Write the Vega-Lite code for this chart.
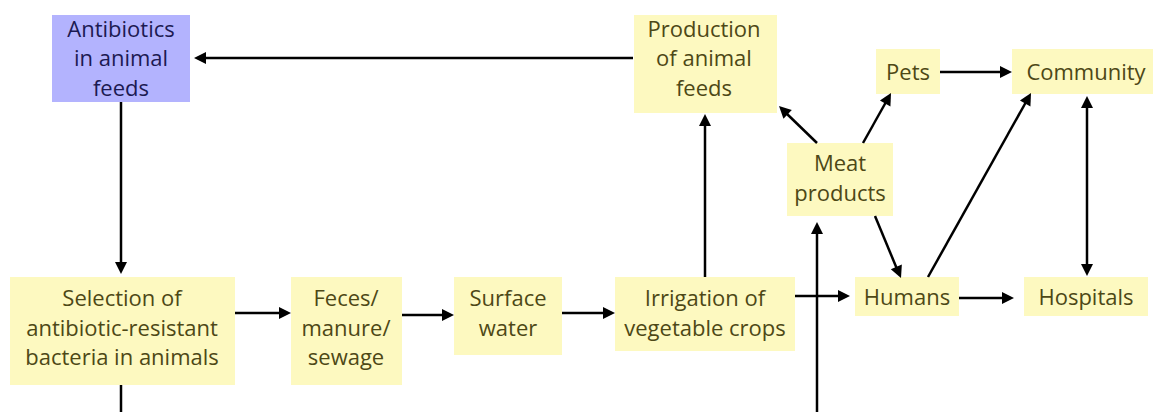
{
  "$schema": "https://vega.github.io/schema/vega-lite/v6.json",
  "width": 1156,
  "height": 412,
  "padding": 0,
  "autosize": {"type": "none"},
  "background": "white",
  "config": {"view": {"stroke": null}},
  "datasets": {
    "boxes": [
      {"name": "Antibiotics", "x": 52, "x2": 190, "y": 15, "y2": 102, "kind": "source"},
      {"name": "Production", "x": 634, "x2": 777, "y": 15, "y2": 113, "kind": "step"},
      {"name": "Pets", "x": 876, "x2": 940, "y": 49, "y2": 94, "kind": "step"},
      {"name": "Community", "x": 1012, "x2": 1153, "y": 49, "y2": 94, "kind": "step"},
      {"name": "Meat", "x": 787, "x2": 893, "y": 143, "y2": 216, "kind": "step"},
      {"name": "Selection", "x": 10, "x2": 235, "y": 277, "y2": 385, "kind": "step"},
      {"name": "Feces", "x": 291, "x2": 402, "y": 277, "y2": 385, "kind": "step"},
      {"name": "Surface", "x": 454, "x2": 562, "y": 277, "y2": 355, "kind": "step"},
      {"name": "Irrigation", "x": 615, "x2": 795, "y": 277, "y2": 351, "kind": "step"},
      {"name": "Humans", "x": 855, "x2": 959, "y": 277, "y2": 316, "kind": "step"},
      {"name": "Hospitals", "x": 1024, "x2": 1148, "y": 277, "y2": 316, "kind": "step"}
    ],
    "labels": [
      {"text": "Antibiotics", "x": 121, "y": 29, "kind": "source"},
      {"text": "in animal", "x": 121, "y": 58, "kind": "source"},
      {"text": "feeds", "x": 121, "y": 88, "kind": "source"},
      {"text": "Production", "x": 704, "y": 29, "kind": "step"},
      {"text": "of animal", "x": 704, "y": 58, "kind": "step"},
      {"text": "feeds", "x": 704, "y": 88, "kind": "step"},
      {"text": "Pets", "x": 908, "y": 72, "kind": "step"},
      {"text": "Community", "x": 1086, "y": 72, "kind": "step"},
      {"text": "Meat", "x": 840, "y": 163, "kind": "step"},
      {"text": "products", "x": 840, "y": 193, "kind": "step"},
      {"text": "Selection of", "x": 122, "y": 298, "kind": "step"},
      {"text": "antibiotic-resistant", "x": 122, "y": 328, "kind": "step"},
      {"text": "bacteria in animals", "x": 122, "y": 357, "kind": "step"},
      {"text": "Feces/", "x": 346, "y": 298, "kind": "step"},
      {"text": "manure/", "x": 346, "y": 328, "kind": "step"},
      {"text": "sewage", "x": 346, "y": 357, "kind": "step"},
      {"text": "Surface", "x": 508, "y": 298, "kind": "step"},
      {"text": "water", "x": 508, "y": 328, "kind": "step"},
      {"text": "Irrigation of", "x": 705, "y": 298, "kind": "step"},
      {"text": "vegetable crops", "x": 705, "y": 328, "kind": "step"},
      {"text": "Humans", "x": 907, "y": 297, "kind": "step"},
      {"text": "Hospitals", "x": 1086, "y": 297, "kind": "step"}
    ],
    "links": [
      {"x": 633, "y": 58, "x2": 204, "y2": 58},
      {"x": 121, "y": 102, "x2": 121, "y2": 264},
      {"x": 121, "y": 385, "x2": 121, "y2": 412},
      {"x": 235, "y": 313, "x2": 281, "y2": 313},
      {"x": 402, "y": 315, "x2": 444, "y2": 315},
      {"x": 562, "y": 313, "x2": 605, "y2": 313},
      {"x": 705, "y": 277, "x2": 705, "y2": 124},
      {"x": 817, "y": 412, "x2": 817, "y2": 232},
      {"x": 795, "y": 296, "x2": 840, "y2": 296},
      {"x": 817, "y": 143, "x2": 786, "y2": 113},
      {"x": 863, "y": 143, "x2": 886, "y2": 102},
      {"x": 875, "y": 216, "x2": 897, "y2": 269},
      {"x": 940, "y": 72, "x2": 1002, "y2": 72},
      {"x": 928, "y": 277, "x2": 1026, "y2": 102},
      {"x": 1087, "y": 106, "x2": 1087, "y2": 266},
      {"x": 959, "y": 298, "x2": 1004, "y2": 298}
    ],
    "heads": [
      {"x": 194, "y": 58, "angle": 270},
      {"x": 121, "y": 274, "angle": 180},
      {"x": 291, "y": 313, "angle": 90},
      {"x": 454, "y": 315, "angle": 90},
      {"x": 615, "y": 313, "angle": 90},
      {"x": 705, "y": 114, "angle": 0},
      {"x": 850, "y": 296, "angle": 90},
      {"x": 817, "y": 222, "angle": 0},
      {"x": 779, "y": 106, "angle": 314},
      {"x": 891, "y": 93, "angle": 29},
      {"x": 901, "y": 278, "angle": 157},
      {"x": 1012, "y": 72, "angle": 90},
      {"x": 1031, "y": 93, "angle": 29},
      {"x": 1087, "y": 96, "angle": 0},
      {"x": 1087, "y": 276, "angle": 180},
      {"x": 1014, "y": 298, "angle": 90}
    ]
  },
  "layer": [
    {
      "data": {"name": "boxes"},
      "mark": {"type": "rect"},
      "encoding": {
        "x": {"field": "x", "type": "quantitative", "scale": {"domain": [0, 1156], "nice": false, "zero": false}, "axis": null},
        "x2": {"field": "x2"},
        "y": {"field": "y", "type": "quantitative", "scale": {"domain": [0, 412], "nice": false, "zero": false, "reverse": true}, "axis": null},
        "y2": {"field": "y2"},
        "color": {"field": "kind", "type": "nominal", "scale": {"domain": ["source", "step"], "range": ["#b3b3fe", "#fdf9c0"]}, "legend": null}
      }
    },
    {
      "data": {"name": "links"},
      "mark": {"type": "rule", "color": "black", "strokeWidth": 2.5},
      "encoding": {
        "x": {"field": "x", "type": "quantitative", "scale": {"domain": [0, 1156], "nice": false, "zero": false}, "axis": null},
        "x2": {"field": "x2"},
        "y": {"field": "y", "type": "quantitative", "scale": {"domain": [0, 412], "nice": false, "zero": false, "reverse": true}, "axis": null},
        "y2": {"field": "y2"}
      }
    },
    {
      "data": {"name": "heads"},
      "mark": {"type": "point", "shape": "M0,0L-1,2L1,2Z", "size": 144, "filled": true, "color": "black", "opacity": 1, "strokeWidth": 0},
      "encoding": {
        "x": {"field": "x", "type": "quantitative", "scale": {"domain": [0, 1156], "nice": false, "zero": false}, "axis": null},
        "y": {"field": "y", "type": "quantitative", "scale": {"domain": [0, 412], "nice": false, "zero": false, "reverse": true}, "axis": null},
        "angle": {"field": "angle", "type": "quantitative", "scale": null}
      }
    },
    {
      "data": {"name": "labels"},
      "mark": {"type": "text", "font": "Open Sans", "fontSize": 22, "dy": 1, "align": "center", "baseline": "middle"},
      "encoding": {
        "x": {"field": "x", "type": "quantitative", "scale": {"domain": [0, 1156], "nice": false, "zero": false}, "axis": null},
        "y": {"field": "y", "type": "quantitative", "scale": {"domain": [0, 412], "nice": false, "zero": false, "reverse": true}, "axis": null},
        "text": {"field": "text"},
        "color": {"field": "kind", "type": "nominal", "scale": {"domain": ["source", "step"], "range": ["#1c1a52", "#4d4816"]}, "legend": null}
      }
    }
  ],
  "resolve": {"scale": {"color": "independent"}}
}
